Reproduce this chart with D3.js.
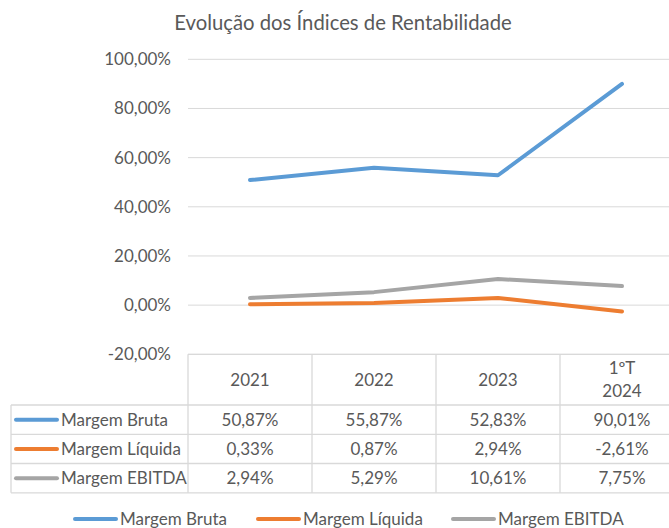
<!DOCTYPE html>
<html>
<head>
<meta charset="utf-8">
<script src="https://cdn.jsdelivr.net/npm/d3@7"></script>
<style>
  body { margin: 0; background: #fff; }
  svg { display: block; font-family: Lato, "Open Sans", sans-serif; }
</style>
</head>
<body>
<svg id="chart" width="669" height="528"></svg>
<script>
// data
const periods = ['2021', '2022', '2023', '1ºT 2024'];
const periodLines = [['2021'], ['2022'], ['2023'], ['1ºT', '2024']];
const seriesNames = ['Margem Bruta', 'Margem Líquida', 'Margem EBITDA'];
const margemBruta = [50.87, 55.87, 52.83, 90.01];
const margemLiquida = [0.33, 0.87, 2.94, -2.61];
const margemEbitda = [2.94, 5.29, 10.61, 7.75];
const yTicks = [-20, 0, 20, 40, 60, 80, 100];

const colors = ['#5B9BD5', '#ED7D31', '#A5A5A5'];
const textColor = '#595959';
const gridColor = '#D9D9D9';
const fontSize = '17px';

const series = [margemBruta, margemLiquida, margemEbitda];

const ptBR = d3.formatLocale({decimal: ',', thousands: '.', grouping: [3], currency: ['R$', ''], minus: '-'});
const fmt = ptBR.format('.2f');
const pct = v => fmt(v) + '%';

const svg = d3.select('#chart');

const margin = {left: 188, top: 59.3, bottom: 354.3};
const x = d3.scaleBand().domain(periods).range([margin.left, margin.left + 124 * 4]).padding(0);
const y = d3.scaleLinear().domain([-20, 100]).range([margin.bottom, margin.top]);

// title
svg.append('text')
    .attr('x', 343)
    .attr('y', 30)
    .attr('text-anchor', 'middle')
    .style('font-size', '20.3px')
    .style('fill', textColor)
    .text('Evolução dos Índices de Rentabilidade');

// gridlines
svg.append('g')
    .selectAll('line')
    .data(yTicks)
    .enter().append('line')
    .attr('x1', margin.left)
    .attr('x2', 669)
    .attr('y1', function(d) { return y(d); })
    .attr('y2', function(d) { return y(d); })
    .style('stroke', gridColor)
    .style('stroke-width', 1);

// y axis labels
const yAxis = svg.append('g')
    .attr('transform', 'translate(' + (margin.left - 17) + ',0)')
    .call(d3.axisLeft(y).tickValues(yTicks).tickSize(0).tickPadding(0).tickFormat(pct));
yAxis.select('.domain').remove();
yAxis.selectAll('text')
    .style('font-family', 'Lato, "Open Sans", sans-serif')
    .style('font-size', fontSize)
    .style('fill', textColor);

// data table
const rowTop = y(-20);
const rows = [rowTop, 405, 434.3, 463.5, 492.8];
const tableLeft = 11;
const tableRight = x.range()[1];
const grid = svg.append('g').style('stroke', gridColor).style('stroke-width', 1.3);

// horizontal borders
grid.selectAll('line.h')
    .data(rows)
    .enter().append('line')
    .attr('class', 'h')
    .attr('x1', function(d, i) { return i === 0 ? margin.left : tableLeft; })
    .attr('x2', tableRight)
    .attr('y1', function(d) { return d; })
    .attr('y2', function(d) { return d; });

// vertical borders
const colEdges = periods.map(function(p) { return x(p); }).concat([tableRight]);
grid.selectAll('line.v')
    .data(colEdges)
    .enter().append('line')
    .attr('class', 'v')
    .attr('x1', function(d) { return d; })
    .attr('x2', function(d) { return d; })
    .attr('y1', rows[0])
    .attr('y2', rows[4]);
grid.append('line')
    .attr('x1', tableLeft).attr('x2', tableLeft)
    .attr('y1', rows[1]).attr('y2', rows[4]);

// header cells
const header = svg.append('g')
    .selectAll('text')
    .data(periodLines)
    .enter().append('text')
    .attr('x', function(d, i) { return x(periods[i]) + x.bandwidth() / 2; })
    .attr('y', function(d) { return d.length === 1 ? 386 : 374; })
    .attr('text-anchor', 'middle')
    .style('font-size', fontSize)
    .style('fill', textColor);
header.selectAll('tspan')
    .data(function(d) { return d; })
    .enter().append('tspan')
    .attr('x', function() { return this.parentNode.getAttribute('x'); })
    .attr('dy', function(d, i) { return i === 0 ? 0 : 23; })
    .text(function(d) { return d; });

// data rows
series.forEach(function(vals, s) {
    const midY = (rows[s + 1] + rows[s + 2]) / 2;
    const row = svg.append('g');
    row.append('line')
        .attr('x1', 16).attr('x2', 57)
        .attr('y1', midY).attr('y2', midY)
        .style('stroke', colors[s])
        .style('stroke-width', 4)
        .style('stroke-linecap', 'round');
    row.append('text')
        .attr('x', 61)
        .attr('y', midY + 6)
        .style('font-size', fontSize)
        .style('fill', textColor)
        .text(seriesNames[s]);
    row.selectAll('text.val')
        .data(vals)
        .enter().append('text')
        .attr('class', 'val')
        .attr('x', function(d, i) { return x(periods[i]) + x.bandwidth() / 2; })
        .attr('y', midY + 6)
        .attr('text-anchor', 'middle')
        .style('font-size', fontSize)
        .style('fill', textColor)
        .text(pct);
});

// lines
const line = d3.line()
    .x(function(d, i) { return x(periods[i]) + x.bandwidth() / 2; })
    .y(function(d) { return y(d); });

svg.append('g')
    .selectAll('path')
    .data(series.slice().reverse())
    .enter().append('path')
    .attr('d', line)
    .style('fill', 'none')
    .style('stroke', function(d, i) { return colors[2 - i]; })
    .style('stroke-width', 4)
    .style('stroke-linecap', 'round')
    .style('stroke-linejoin', 'round');

// legend
const legendX = [74, 257, 452];
const legend = svg.append('g')
    .selectAll('g')
    .data(seriesNames)
    .enter().append('g')
    .attr('transform', function(d, i) { return 'translate(' + legendX[i] + ',519)'; });
legend.append('line')
    .attr('x1', 1).attr('x2', 42)
    .style('stroke', function(d, i) { return colors[i]; })
    .style('stroke-width', 4)
    .style('stroke-linecap', 'round');
legend.append('text')
    .attr('x', 46)
    .attr('y', 6)
    .style('font-size', fontSize)
    .style('fill', textColor)
    .text(function(d) { return d; });
</script>
</body>
</html>
